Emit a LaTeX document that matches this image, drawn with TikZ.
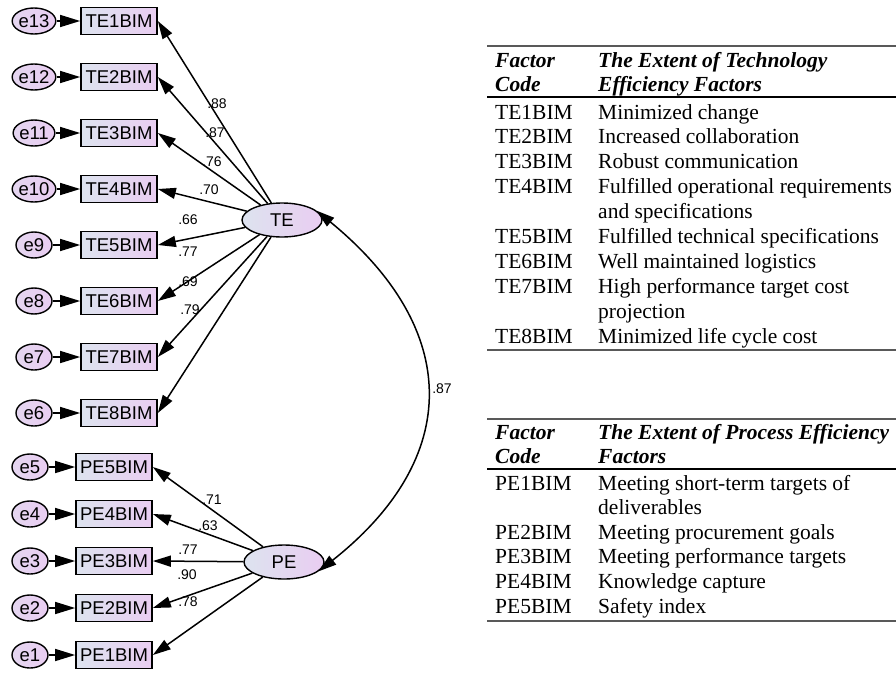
\documentclass[tikz,border=0pt]{standalone}
\usepackage{fontspec}
\setmainfont{Liberation Serif}
\newfontfamily\amosfont{Liberation Sans}
\usetikzlibrary{arrows.meta,shapes.geometric}
\definecolor{amosblue}{RGB}{221,227,239}
\definecolor{amospink}{RGB}{233,205,241}
\tikzset{
  ind/.style={draw, line width=1.7pt, minimum width=76pt, minimum height=27pt,
    inner sep=0pt, left color=amosblue, right color=amospink,
    font=\amosfont\fontsize{18.5}{19}\selectfont},
  err/.style={draw, ellipse, line width=1.4pt, minimum width=36pt, minimum height=26pt,
    inner sep=0pt, left color=amosblue!40!amospink, right color=amospink,
    font=\amosfont\fontsize{18.5}{19}\selectfont},
  lat/.style={draw, ellipse, line width=1.4pt, minimum width=80pt, minimum height=34pt,
    inner sep=0pt, left color=amosblue, right color=amospink,
    font=\amosfont\fontsize{18.5}{19}\selectfont},
  reg/.style={line width=1.5pt, -{Triangle[length=18pt,width=11pt]}},
  errarr/.style={line width=1.5pt, -{Triangle[length=20pt,width=12pt]}},
  coef/.style={inner sep=0pt, font=\amosfont\fontsize{14}{15}\selectfont},
  tab/.style={anchor=base west, inner sep=0pt, font=\fontsize{21.5}{24}\selectfont},
  tabhead/.style={anchor=base west, inner sep=0pt,
    font=\bfseries\itshape\fontsize{21.5}{24}\selectfont},
  bigrule/.style={line width=2pt, black!65},
  midrule/.style={line width=1.3pt}
}
\begin{document}
\begin{tikzpicture}[x=1pt, y=-1pt]
  \useasboundingbox (0,0) rectangle (896,672);
  % latent factors
  \node[lat] (TE) at (282,220) {TE};
  \node[lat] (PE) at (284,562) {PE};
  \draw[line width=1.5pt, {Triangle[length=18pt,width=11pt]}-{Triangle[length=18pt,width=11pt]}]
    (TE.15) .. controls (462,330) and (462,458) .. (PE.-15);
  \node[coef] (rTP) at (442,389) {.87};
  % technology efficiency items
  \foreach \i/\w/\lx/\ly in {1/.88/217/104, 2/.87/215/133, 3/.76/212/162,
      4/.70/209/190, 5/.66/188/220, 6/.77/188/252, 7/.69/188/282, 8/.79/190/310} {
    \pgfmathtruncatemacro\e{14-\i}
    \node[ind] (TE\i) at (119,{21+56*(\i-1)}) {TE\i BIM};
    \node[err] (e\e) at (34,{21+56*(\i-1)}) {e\e};
    \draw[errarr] (e\e) -- (TE\i);
    \draw[reg] (TE) -- (TE\i.east);
    \node[coef] (lTE\i) at (\lx,\ly) {\w};
  }
  % process efficiency items
  \foreach \i/\w/\lx/\ly in {5/.71/212/500, 4/.63/208/526, 3/.77/188/550,
      2/.90/187/575, 1/.78/188/602} {
    \node[ind] (PE\i) at (114,{467+47*(5-\i)}) {PE\i BIM};
    \node[err] (e\i) at (30,{467+47*(5-\i)}) {e\i};
    \draw[errarr] (e\i) -- (PE\i);
    \draw[reg] (PE) -- (PE\i.east);
    \node[coef] (lPE\i) at (\lx,\ly) {\w};
  }
  % table of technology efficiency factors
  \draw[bigrule] (487,46) -- (896,46);
  \node[tabhead] (t1h1) at (495,67) {Factor};
  \node[tabhead] (t1h2) at (495,91) {Code};
  \node[tabhead] (t1h3) at (598,67) {The Extent of Technology};
  \node[tabhead] (t1h4) at (598,91) {Efficiency Factors};
  \draw[midrule] (487,97) -- (896,97);
  \foreach \c/\d [count=\k from 0] in {TE1BIM/Minimized change,
      TE2BIM/Increased collaboration, TE3BIM/Robust communication,
      TE4BIM/Fulfilled operational requirements, /and specifications,
      TE5BIM/Fulfilled technical specifications, TE6BIM/Well maintained logistics,
      TE7BIM/High performance target cost, /projection,
      TE8BIM/Minimized life cycle cost} {
    \node[tab] (t1c\k) at (495,{119+24.9*\k}) {\c};
    \node[tab] (t1d\k) at (598,{119+24.9*\k}) {\d};
  }
  \draw[bigrule] (487,350) -- (896,350);
  % table of process efficiency factors
  \draw[bigrule] (487,419) -- (896,419);
  \node[tabhead] (t2h1) at (495,439) {Factor};
  \node[tabhead] (t2h2) at (495,463) {Code};
  \node[tabhead] (t2h3) at (598,439) {The Extent of Process Efficiency};
  \node[tabhead] (t2h4) at (598,463) {Factors};
  \draw[midrule] (487,469) -- (896,469);
  \foreach \c/\d [count=\k from 0] in {PE1BIM/Meeting short-term targets of,
      /deliverables, PE2BIM/Meeting procurement goals,
      PE3BIM/Meeting performance targets, PE4BIM/Knowledge capture,
      PE5BIM/Safety index} {
    \node[tab] (t2c\k) at (495,{490+24.6*\k}) {\c};
    \node[tab] (t2d\k) at (598,{490+24.6*\k}) {\d};
  }
  \draw[bigrule] (487,621) -- (896,621);
\end{tikzpicture}
\end{document}
